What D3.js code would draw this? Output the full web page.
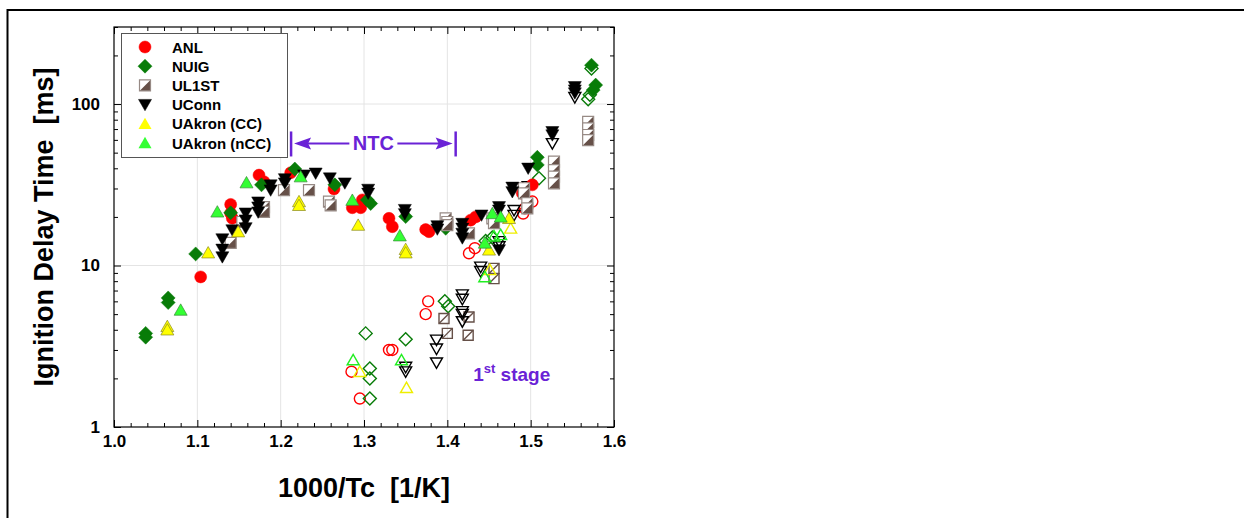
<!DOCTYPE html>
<html>
<head>
<meta charset="utf-8">
<script src="https://cdn.jsdelivr.net/npm/d3@7"></script>
<style>
  body { margin: 0; background: #fff; }
  svg { display: block; font-family: Arial, "Liberation Sans", sans-serif; }
  .keep-space { white-space: pre; }
</style>
</head>
<body>
<svg id="chart" width="1244" height="518"></svg>
<script>
// ---- Data: [1000/Tc (1/K), ignition delay (ms)] ----
// Filled markers: total ignition delay; open markers: first-stage delay.
const anlMain = [[1.104,8.5],[1.140,23.9],[1.140,21.1],[1.142,19.6],[1.174,36.3],[1.180,33],[1.212,37.5],
  [1.264,29.8],[1.286,22.8],[1.296,22.8],[1.298,25.5],[1.330,19.6],[1.334,17.4],[1.374,16.7],[1.378,16.2],
  [1.428,19.1],[1.434,20],[1.490,28],[1.502,31.6]];
const anlFirst = [[1.285,2.2],[1.295,1.5],[1.330,3.0],[1.334,3.0],[1.374,5.0],[1.377,6.0],[1.426,11.9],
  [1.433,12.8],[1.491,21],[1.493,22.6],[1.502,24.9]];

const nuigMain = [[1.038,3.8],[1.038,3.6],[1.065,6.3],[1.065,5.9],[1.098,11.8],[1.140,21.2],[1.177,31.6],
  [1.217,39.6],[1.265,31.6],[1.304,25.5],[1.308,24.2],[1.350,20.1],[1.398,17],[1.508,46.8],[1.508,42],
  [1.573,174],[1.578,131],[1.575,122]];
const nuigFirst = [[1.302,3.8],[1.307,2.3],[1.307,2.0],[1.307,1.5],[1.350,3.5],[1.397,6.0],[1.401,5.6],
  [1.446,14.2],[1.454,14.9],[1.510,34.7],[1.573,166],[1.571,114],[1.569,107]];

const ul1stMain = [[1.140,13.8],[1.154,18.6],[1.180,23],[1.180,21.5],[1.204,29.3],[1.234,29.3],[1.258,24.9],
  [1.260,23.6],[1.398,19.6],[1.400,18.6],[1.400,17.8],[1.426,15.8],[1.454,19.6],[1.456,18.3],[1.492,30.1],
  [1.492,28],[1.496,24.3],[1.496,22.6],[1.528,44],[1.528,39],[1.528,35.5],[1.528,32.3],[1.569,77.6],
  [1.569,70.7],[1.569,64.3],[1.569,59.8]];
const ul1stFirst = [[1.396,4.7],[1.400,3.8],[1.426,4.8],[1.425,3.7],[1.456,9.6],[1.456,8.3]];

const uconnMain = [[1.130,14.6],[1.130,12.6],[1.130,11.3],[1.142,16.6],[1.158,21.1],[1.158,19.1],[1.158,17.1],
  [1.173,24.7],[1.173,23],[1.173,21.4],[1.188,31.5],[1.188,29.3],[1.205,34.4],[1.205,32.4],[1.228,36.3],
  [1.242,37.3],[1.259,34.8],[1.277,32.4],[1.305,29.6],[1.305,28],[1.349,22.2],[1.349,20.9],[1.388,17.6],
  [1.388,16.8],[1.418,18.2],[1.418,17],[1.418,15.8],[1.418,14.8],[1.441,20.5],[1.462,23.1],[1.462,22],
  [1.462,12.5],[1.478,30.5],[1.478,28.6],[1.497,40],[1.526,67.4],[1.526,64.3],[1.553,128],[1.553,122],
  [1.553,117]];
const uconnFirst = [[1.350,2.35],[1.350,2.2],[1.387,3.46],[1.387,3.05],[1.387,2.5],[1.418,6.6],[1.418,6.2],
  [1.418,5.2],[1.418,5.0],[1.418,4.5],[1.440,9.8],[1.440,9.2],[1.462,14.1],[1.462,13.1],[1.480,22],
  [1.480,20.5],[1.497,30.9],[1.526,57],[1.553,110]];

const akronCcMain = [[1.064,4.2],[1.064,4.0],[1.113,12],[1.149,16.2],[1.222,24.9],[1.222,23.6],[1.293,17.8],
  [1.350,12.6],[1.350,12],[1.450,12.5],[1.474,19.6]];
const akronCcFirst = [[1.295,2.2],[1.351,1.75],[1.451,9.4],[1.476,17]];

const akronNccMain = [[1.080,5.3],[1.124,21.5],[1.159,32.6],[1.224,35.5],[1.286,25.4],[1.343,15.3],
  [1.445,13.8],[1.454,21],[1.464,20]];
const akronNccFirst = [[1.287,2.6],[1.345,2.6],[1.445,8.5],[1.456,15.2],[1.464,15.5]];

// Axis ticks
const xMajor = [1.0, 1.1, 1.2, 1.3, 1.4, 1.5, 1.6];
const yMajor = [1, 10, 100];

// Annotations
const ntcSpan = [1.2125, 1.41];
const ntcLevel = 57;
const firstStagePos = [1.431, 1.93];

// ---- Layout ----
const svg = d3.select("#chart");
const W = 1244, H = 518;
const pL = 114, pR = 614, pT = 27, pB = 427;
const x = d3.scaleLinear().domain([1.0, 1.6]).range([pL, pR]);
const y = d3.scaleLog().domain([1, 300]).range([pB, pT]);

const purple = "#6a22d6";

// page frame (top and left edges)
svg.append("line").attr("x1", 7.5).attr("x2", W).attr("y1", 10).attr("y2", 10)
  .attr("stroke", "#000").attr("stroke-width", 2);
svg.append("line").attr("x1", 7.5).attr("x2", 7.5).attr("y1", 9).attr("y2", H)
  .attr("stroke", "#000").attr("stroke-width", 2);

// grid
const grid = svg.append("g").attr("stroke", "#e4e4e4").attr("stroke-width", 1);
xMajor.slice(1, -1).forEach(v => grid.append("line")
  .attr("x1", x(v)).attr("x2", x(v)).attr("y1", pT).attr("y2", pB));
[10, 100].forEach(v => grid.append("line")
  .attr("x1", pL).attr("x2", pR).attr("y1", y(v)).attr("y2", y(v)));

// axes (ticks point inward)
const xMinor = d3.range(1.0, 1.6001, 0.02).filter(v => Math.abs(v * 10 - Math.round(v * 10)) > 1e-6);
const yMinor = [];
[1, 10, 100].forEach(d => { for (let k = 2; k <= 9; k++) if (d * k <= 300) yMinor.push(d * k); });

function styleAxis(g) {
  g.select(".domain").remove();
  g.selectAll(".tick line").attr("stroke", "#000").attr("stroke-width", 1);
  g.selectAll("text").attr("fill", "#000").attr("font-weight", "bold").attr("font-size", 17)
    .attr("font-family", "Arial, 'Liberation Sans', sans-serif");
}
svg.append("g").attr("transform", `translate(0,${pB})`)
  .call(d3.axisBottom(x).tickValues(xMajor).tickSize(-7).tickPadding(8).tickFormat(d3.format(".1f")))
  .call(styleAxis);
svg.append("g").attr("transform", `translate(0,${pB})`)
  .call(d3.axisBottom(x).tickValues(xMinor).tickSize(-4).tickFormat("")).call(styleAxis);
svg.append("g").attr("transform", `translate(0,${pT})`)
  .call(d3.axisTop(x).tickValues(xMajor).tickSize(-7).tickFormat("")).call(styleAxis);
svg.append("g").attr("transform", `translate(0,${pT})`)
  .call(d3.axisTop(x).tickValues(xMinor).tickSize(-4).tickFormat("")).call(styleAxis);
svg.append("g").attr("transform", `translate(${pL},0)`)
  .call(d3.axisLeft(y).tickValues(yMajor).tickSize(-7).tickPadding(14).tickFormat(d3.format("d")))
  .call(styleAxis);
svg.append("g").attr("transform", `translate(${pL},0)`)
  .call(d3.axisLeft(y).tickValues(yMinor).tickSize(-4).tickFormat("")).call(styleAxis);
svg.append("g").attr("transform", `translate(${pR},0)`)
  .call(d3.axisRight(y).tickValues(yMajor).tickSize(-7).tickFormat("")).call(styleAxis);
svg.append("g").attr("transform", `translate(${pR},0)`)
  .call(d3.axisRight(y).tickValues(yMinor).tickSize(-4).tickFormat("")).call(styleAxis);

svg.append("rect").attr("x", pL).attr("y", pT).attr("width", pR - pL).attr("height", pB - pT)
  .attr("fill", "none").attr("stroke", "#000").attr("stroke-width", 1.2);

// axis titles
svg.append("text").attr("class", "keep-space").attr("x", (pL + pR) / 2).attr("y", 497)
  .attr("text-anchor", "middle").attr("font-size", 27).attr("font-weight", "bold")
  .text("1000/Tc  [1/K]");
svg.append("text").attr("class", "keep-space").attr("transform", `translate(53,${(pT + pB) / 2}) rotate(-90)`)
  .attr("text-anchor", "middle").attr("font-size", 27).attr("font-weight", "bold")
  .text("Ignition Delay Time  [ms]");

// ---- markers ----
const shapes = {
  circle: s => `M${s},0A${s},${s} 0 1,1 ${-s},0A${s},${s} 0 1,1 ${s},0Z`,
  diamond: s => `M0,${-s}L${s},0L0,${s}L${-s},0Z`,
  tdown: s => `M${-s},${-s * 0.8}L${s},${-s * 0.8}L0,${s * 0.95}Z`,
  tup: s => `M${-s},${s * 0.8}L${s},${s * 0.8}L0,${-s * 0.95}Z`,
  square: s => `M${-s},${-s}H${s}V${s}H${-s}Z`
};

const series = [
  { name: "ANL", main: anlMain, first: anlFirst, shape: "circle", size: 6,
    fill: "#ff0000", stroke: "#ff0000", sw: 0.5, open: "#ff0000" },
  { name: "NUIG", main: nuigMain, first: nuigFirst, shape: "diamond", size: 7,
    fill: "#087c08", stroke: "#087c08", sw: 0.5, open: "#087c08" },
  { name: "UL1ST", main: ul1stMain, first: ul1stFirst, shape: "square", size: 5.5,
    fill: "#665048", stroke: "#978a85", sw: 1.2, open: "#665048" },
  { name: "UConn", main: uconnMain, first: uconnFirst, shape: "tdown", size: 6.5,
    fill: "#000000", stroke: "#000000", sw: 0.5, open: "#000000" },
  { name: "UAkron (CC)", main: akronCcMain, first: akronCcFirst, shape: "tup", size: 6.5,
    fill: "#ffff00", stroke: "#8a8a20", sw: 0.7, open: "#eeee00" },
  { name: "UAkron (nCC)", main: akronNccMain, first: akronNccFirst, shape: "tup", size: 6.5,
    fill: "#33ff33", stroke: "#3a8a3a", sw: 0.7, open: "#22ee22" }
];

function drawFilled(g, s, legend) {
  if (s.shape === "square") {
    const a = s.size;
    g.append("path").attr("d", shapes.square(a)).attr("fill", "#fff").attr("stroke", "none");
    g.append("path").attr("d", `M${a},${-a}L${a},${a}L${-a},${a}Z`).attr("fill", s.fill);
    g.append("path").attr("d", shapes.square(a)).attr("fill", "none")
      .attr("stroke", s.stroke).attr("stroke-width", s.sw);
  } else {
    g.append("path").attr("d", shapes[s.shape](s.size)).attr("fill", s.fill)
      .attr("stroke", legend && s.shape === "tup" ? "none" : s.stroke).attr("stroke-width", s.sw);
  }
}
function drawOpen(g, s) {
  const sz = s.size - 0.5;
  g.append("path").attr("d", shapes[s.shape](sz)).attr("fill", "none")
    .attr("stroke", s.open).attr("stroke-width", 1.4);
  if (s.shape === "square") {
    g.append("path").attr("d", `M${-sz},${sz}L${sz},${-sz}`).attr("stroke", s.open).attr("stroke-width", 1.4);
  }
}

const plot = svg.append("g");
series.forEach(s => {
  plot.append("g").selectAll("g").data(s.first).join("g")
    .attr("transform", d => `translate(${x(d[0])},${y(d[1])})`)
    .each(function () { drawOpen(d3.select(this), s); });
});
series.forEach(s => {
  plot.append("g").selectAll("g").data(s.main).join("g")
    .attr("transform", d => `translate(${x(d[0])},${y(d[1])})`)
    .each(function () { drawFilled(d3.select(this), s, false); });
});

// ---- legend ----
const lg = svg.append("g").attr("transform", "translate(121,33)");
lg.append("rect").attr("x", 0.5).attr("y", 0.5).attr("width", 166).attr("height", 124)
  .attr("fill", "#fff").attr("stroke", "#555").attr("stroke-width", 1);
series.forEach((s, i) => {
  const row = lg.append("g").attr("transform", `translate(24,${14 + i * 19.2})`);
  drawFilled(row, s, true);
  lg.append("text").attr("x", 51).attr("y", 14 + i * 19.2 + 5.5).attr("font-size", 15)
    .attr("font-weight", "bold").text(s.name);
});

// ---- NTC annotation ----
const nx0 = x(ntcSpan[0]), nx1 = x(ntcSpan[1]), ny = y(ntcLevel);
const ann = svg.append("g").attr("stroke", purple).attr("fill", purple);
ann.append("line").attr("x1", nx0).attr("x2", nx0).attr("y1", ny - 12).attr("y2", ny + 13).attr("stroke-width", 2.5);
ann.append("line").attr("x1", nx1).attr("x2", nx1).attr("y1", ny - 12).attr("y2", ny + 13).attr("stroke-width", 2.5);
const mid = (nx0 + nx1) / 2;
ann.append("line").attr("x1", nx0 + 12).attr("x2", mid - 24).attr("y1", ny).attr("y2", ny).attr("stroke-width", 2);
ann.append("line").attr("x1", mid + 24).attr("x2", nx1 - 12).attr("y1", ny).attr("y2", ny).attr("stroke-width", 2);
ann.append("path").attr("stroke", "none")
  .attr("d", `M${nx0 + 3},${ny}L${nx0 + 20},${ny - 6}L${nx0 + 17},${ny}L${nx0 + 20},${ny + 6}Z`);
ann.append("path").attr("stroke", "none")
  .attr("d", `M${nx1 - 3},${ny}L${nx1 - 20},${ny - 6}L${nx1 - 17},${ny}L${nx1 - 20},${ny + 6}Z`);
svg.append("text").attr("x", mid).attr("y", ny + 7).attr("text-anchor", "middle")
  .attr("font-size", 20).attr("font-weight", "bold").attr("fill", purple).text("NTC");

// ---- first-stage label ----
const fs = svg.append("text").attr("x", x(firstStagePos[0])).attr("y", y(firstStagePos[1]))
  .attr("font-size", 19).attr("font-weight", "bold").attr("fill", purple);
fs.append("tspan").text("1");
fs.append("tspan").attr("font-size", 13).attr("dy", -8).text("st");
fs.append("tspan").attr("dy", 8).text(" stage");
</script>
</body>
</html>
